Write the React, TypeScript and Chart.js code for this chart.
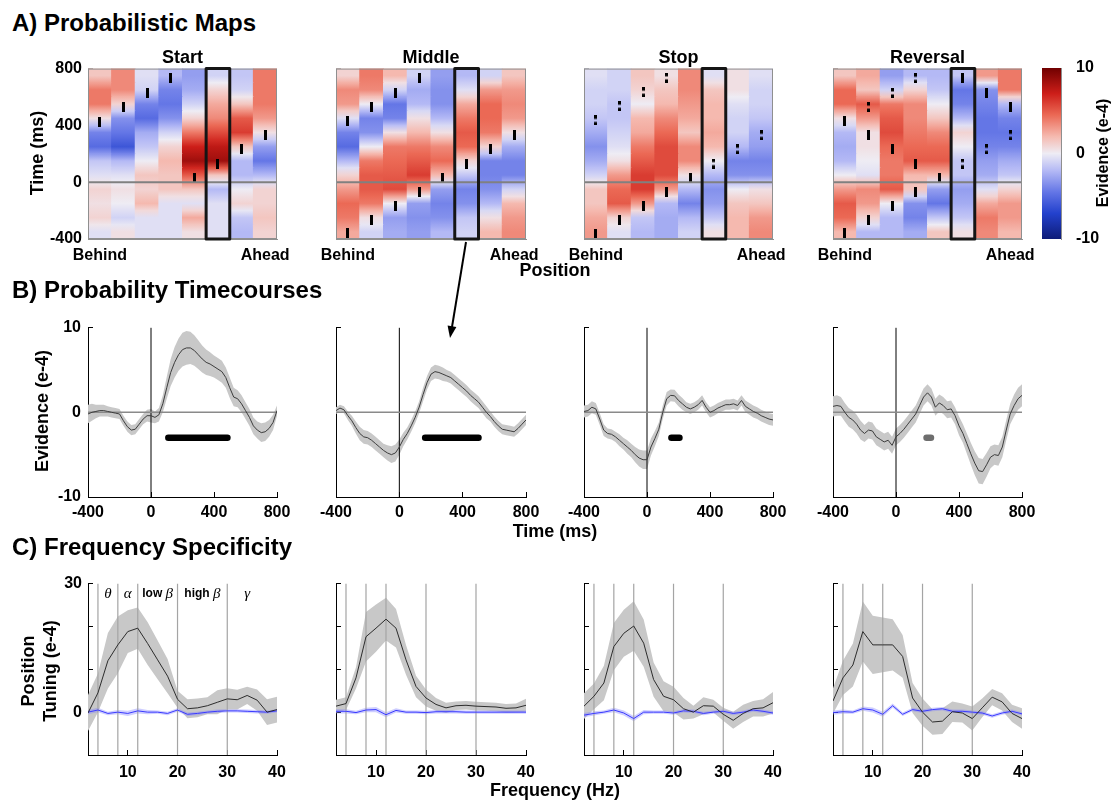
import React, { useEffect, useRef } from "react";
import { Chart, registerables } from "chart.js";

Chart.register(...registerables);

const SANS = "'Liberation Sans', Arial, Helvetica, sans-serif";
const SERIF = "'Liberation Serif', 'DejaVu Serif', serif";

/* ---------------- A) Probabilistic maps ---------------- */
const POSITIONS = ["1", "2", "3", "4", "5", "6", "7", "8"];
const POSITION_TICK_LABELS = ["Behind", "", "", "", "", "", "", "Ahead"];
const MAP_BIN_EDGES = [-400, -300, -200, -100, 0, 100, 200, 300, 400, 500, 600, 700, 800];
const MAP_HIGHLIGHT = 5;
// one row per position (Behind -> Ahead), 12 time bins from -400 ms up to 800 ms
const MAP_START = [
  [-0.5, 1, 0.5, 1, -0.5, -1.5, -5, -4, 0.5, 4, 4, 1.5],
  [0.5, -1, 0, 0.5, -0.5, -2, -6, -4.5, -3.5, 1, 3.5, 3.5],
  [-0.5, -0.5, 2, 1, 1.5, 0, -1.5, -2.5, -5, -4, -1, -0.5],
  [-0.5, -0.5, -0.5, 1.5, 1.5, 2, 1, -1, -3.5, -4.5, -4, -2],
  [0.5, 2.5, -0.5, 1.5, 5, 8.5, 7, 4, 1, -1, -2.5, -3],
  [-0.5, -0.5, -0.5, -2, 1.5, 8.5, 7.5, 5.5, 3.5, 2.5, 1, -1],
  [-2, -1.5, 1, 0, -2, -2, 1.5, 6, 5, 1.5, -1, -1.5],
  [1, 1.5, 1, 1, -2, -4.5, -3, 0.5, 3, 4, 4, 4],
];
const MAP_MIDDLE = [
  [2.5, 4, 4.5, 3, 1, -2, -5, -4, -0.5, 3, 3.5, 1],
  [-1, 0.5, 4, 5, 5, 4, 0, -3.5, -4, 0, 3.5, 4],
  [-2.5, -3, 0, 5.5, 5, 4.5, 4, 0.5, -4, -4.5, -1, 2],
  [-3, -3.5, -3, 3, 6, 5, 4, 2, 0.5, -2, -2.5, -1],
  [-2, -3.5, -4, -3, 2, 4.5, 3.5, 0.5, -2, -3.5, -3.5, -3],
  [-1, -1.5, -3.5, -4, -1.5, 1, 4.5, 5, 4, 2.5, -0.5, -2],
  [2, 0.5, -2, -3.5, -4, -4, 1, 4, 4.5, 4.5, 3, -1],
  [3.5, 3, 2, -1, -4, -4, -2.5, 0.5, 3, 3.5, 3, 1.5],
];
const MAP_STOP = [
  [3, 2.5, 1.5, 1.5, -1, -2.5, -3.5, -2.5, -1.5, -1, -1, -0.5],
  [-0.5, 1, 5, 4.5, 3, 0.5, -0.5, -1, -1.5, -1.5, -1, -1],
  [-2, -1.5, 3, 6, 6, 5, 4, 2.5, 2, 0, 1, 1.5],
  [-2.5, -2.5, -2, 3, 5.5, 5.5, 5.5, 4.5, 3.5, 2, 1.5, 0.5],
  [-1, -2, -4, -2, 0.5, 3.5, 3.5, 1.5, 2.5, 3, 3.5, 3.5],
  [0.5, -1.5, -3, -3.5, -2, 0, 2, 2.5, 2, 2, 1.5, -0.5],
  [2, 2, 1.5, 0, -3.5, -4, -2, -1, -1, -0.5, 0.5, 0.5],
  [3.5, 3, 1.5, 0.5, -3.5, -4, -3, -2.5, -1.5, -1, -1, -0.5],
];
const MAP_REVERSAL = [
  [2, 4.5, 5, 3, 0, -2, -2.5, -2, 0.5, 4.5, 4.5, 1.5],
  [-2, 1, 3, 3.5, -0.5, 0, 0.5, 0.5, 3, 5, 1.5, 2.5],
  [-2, -2, 0, 5, 4, 4, 4.5, 5.5, 5, 4, -1, -3],
  [-2.5, -4, -3.5, 1.5, 2, 5, 4.5, 4, 3.5, 3.5, 1, -2],
  [1.5, -1.5, -4.5, -3, 2, 5, 4.5, 3.5, 1.5, 0, -1.5, -2],
  [0.5, -1.5, -2.5, -3, -1.5, -1.5, 0, 1, -2, -4, -4.5, -1.5],
  [3.5, 4, 2.5, -0.5, -2.5, -3, -4, -4.5, -4.5, -4, -3.5, 3],
  [2, 3, 3, 1, -1.5, -2.5, -4, -4.5, -4, -2, 4, 4],
];
// peak markers: [position, time ms]; "weak" = double-dot markers
const PEAKS_START = [[1, 423], [2, 533], [3, 629], [4, 732], [5, 33], [6, 131], [7, 232], [8, 335]];
const WEAK_START: number[][] = [];
const PEAKS_MIDDLE = [[1, 428], [1, -360], [2, 529], [2, -267], [3, 629], [3, -166], [4, 732], [4, -68], [5, 33], [6, 131], [7, 232], [8, 330]];
const WEAK_MIDDLE: number[][] = [];
const PEAKS_STOP = [[1, -365], [2, -267], [3, -166], [4, -68], [5, 33]];
const WEAK_STOP = [[1, 435], [2, 535], [3, 634], [4, 735], [6, 131], [7, 232], [8, 330]];
const PEAKS_REVERSAL = [[1, 428], [1, -360], [2, 330], [2, -267], [3, 232], [3, -166], [4, 131], [4, -68], [5, 33], [6, 732], [7, 629], [8, 529]];
const WEAK_REVERSAL = [[2, 529], [3, 629], [4, 732], [6, 131], [7, 232], [8, 330]];
const COLORBAR_RANGE = [-10, 10];
const COLORBAR_TICKS = [-10, 0, 10];

/* ---------------- B) Probability timecourses ---------------- */
const TC_TIME = [-400, -375, -350, -325, -300, -275, -250, -225, -200, -175, -150, -125, -100, -75, -50, -25, 0,
  25, 50, 75, 100, 125, 150, 175, 200, 225, 250, 275, 300, 325, 350, 375, 400, 425, 450, 475, 500,
  525, 550, 575, 600, 625, 650, 675, 700, 725, 750, 775, 800];
const TC_START = [-0.2, 0, 0.1, 0.2, 0.2, 0.1, 0, -0.1, -0.2, -1.0, -1.7, -2.1, -2.0, -1.4, -0.8, -0.4, -0.4,
  -0.6, -0.3, 1.0, 2.9, 4.7, 5.9, 6.8, 7.4, 7.6, 7.6, 7.3, 6.8, 6.3, 5.9, 5.7, 5.4, 5.1, 4.8, 4.1, 2.9,
  1.8, 1.6, 1.0, 0.2, -0.6, -1.6, -2.1, -2.4, -2.3, -1.9, -1.2, 0.2];
const TC_START_SEM = [1.1, 1.0, 0.8, 0.7, 0.7, 0.6, 0.6, 0.6, 0.6, 0.6, 0.6, 0.6, 0.6, 0.6, 0.6, 0.7, 0.8,
  0.7, 0.8, 1.0, 1.3, 1.6, 1.8, 1.9, 2.0, 2.0, 1.9, 1.8, 1.7, 1.6, 1.5, 1.4, 1.3, 1.3, 1.3, 1.2, 1.2,
  1.1, 1.0, 1.0, 1.0, 1.0, 1.0, 1.0, 1.1, 1.1, 1.0, 0.9, 0.6];
const TC_MIDDLE = [0.2, 0.5, 0.3, -0.4, -1.0, -1.8, -2.5, -2.9, -3.0, -3.3, -3.7, -4.1, -4.5, -4.8, -5.0, -4.8, -4.1,
  -3.2, -2.5, -1.6, -0.6, 0.6, 2.1, 3.5, 4.5, 4.8, 4.7, 4.5, 4.3, 4.1, 3.7, 3.3, 2.9, 2.5, 2.0, 1.6, 1.2,
  0.6, 0.0, -0.5, -1.1, -1.6, -2.0, -2.1, -2.2, -2.3, -1.9, -1.4, -0.9];
const TC_MIDDLE_SEM = [0.4, 0.4, 0.4, 0.5, 0.6, 0.7, 0.8, 0.8, 0.8, 0.8, 0.8, 0.8, 0.8, 0.9, 1.0, 1.0, 0.9,
  0.8, 0.7, 0.7, 0.7, 0.7, 0.8, 0.8, 0.8, 0.8, 0.8, 0.8, 0.7, 0.7, 0.7, 0.7, 0.7, 0.7, 0.7, 0.7, 0.7,
  0.7, 0.7, 0.6, 0.6, 0.6, 0.6, 0.6, 0.6, 0.6, 0.6, 0.6, 0.6];
const TC_STOP = [0.1, 0.2, 0.6, 0.4, -0.8, -2.1, -2.5, -2.6, -2.9, -3.3, -3.7, -4.1, -4.5, -5.0, -5.4, -5.6, -5.6,
  -4.1, -3.1, -2.0, 0.0, 1.6, 2.0, 1.95, 1.4, 1.0, 0.6, 0.4, 0.6, 0.9, 1.4, 0.6, 0.0, 0.2, 0.5, 0.7, 0.9,
  0.9, 1.0, 0.8, 1.4, 0.7, 0.4, 0.1, -0.1, -0.4, -0.6, -0.8, -0.9];
const TC_STOP_SEM = [0.7, 0.7, 0.7, 0.7, 0.7, 0.7, 0.6, 0.6, 0.6, 0.7, 0.7, 0.8, 0.8, 0.9, 1.0, 1.1, 1.1,
  1.0, 0.9, 0.8, 0.8, 0.8, 0.7, 0.7, 0.7, 0.7, 0.6, 0.6, 0.6, 0.6, 0.6, 0.6, 0.6, 0.6, 0.6, 0.6, 0.6,
  0.6, 0.6, 0.6, 0.6, 0.7, 0.7, 0.7, 0.7, 0.7, 0.7, 0.7, 0.7];
const TC_REVERSAL = [0.7, 0.8, 0.7, 0.0, -0.6, -0.9, -1.4, -2.1, -2.5, -2.1, -2.2, -2.9, -3.2, -3.5, -3.3, -3.9, -2.9,
  -2.5, -2.0, -1.4, -0.8, -0.2, 0.8, 1.8, 2.3, 1.8, 0.6, 1.1, 0.8, 0.3, 0.4, -0.4, -1.6, -2.5, -3.7, -4.9, -6.0,
  -6.9, -7.0, -6.2, -5.3, -5.0, -5.1, -4.1, -2.1, -0.2, 0.8, 1.6, 2.0];
const TC_REVERSAL_SEM = [1.2, 1.2, 1.1, 1.1, 1.1, 1.1, 1.1, 1.1, 1.0, 1.0, 1.0, 1.0, 1.0, 1.0, 1.0, 1.0, 1.0,
  1.0, 1.0, 1.0, 1.0, 1.0, 1.0, 1.0, 1.0, 1.0, 1.0, 1.0, 1.0, 1.0, 1.0, 1.0, 1.1, 1.1, 1.2, 1.3, 1.4,
  1.5, 1.5, 1.4, 1.3, 1.2, 1.2, 1.2, 1.2, 1.2, 1.3, 1.3, 1.3];
const SIG_LEVEL = -3;
const SIG_START = [110, 485];
const SIG_MIDDLE = [163, 500];
const SIG_STOP = [155, 206];
const SIG_REVERSAL = [194, 222];

/* ---------------- C) Frequency specificity ---------------- */
const FREQS = [2, 4, 6, 8, 10, 12, 14, 16, 18, 20, 22, 24, 26, 28, 30, 32, 34, 36, 38, 40];
const FQ_START = [-0.2, 4.5, 12, 15.7, 18.8, 19.6, 16, 12.2, 8.4, 3, 0.8, 1, 1.5, 2.3, 3.1, 2.9, 3.9, 2.8, 0, 0.6];
const FQ_START_SEM = [4.2, 4.5, 6.5, 6.6, 5, 4.8, 5, 4.5, 4, 2, 2.2, 2.2, 2, 2.8, 2.5, 2.3, 2, 2.5, 3, 3];
const FQ_START_NULL = [0, 0.5, -0.3, 0, -0.3, 0.3, 0, 0, -0.3, 0.5, -0.5, -0.3, 0, 0.2, 0.3, 0.3, 0.2, 0.1, 0, 0.3];
const FQ_MIDDLE = [1.4, 2.0, 8, 17.6, 19.6, 21.7, 19.6, 12.2, 6, 3.3, 1.8, 1.0, 1.5, 1.6, 1.4, 1.3, 1.2, 0.9, 1.0, 1.6];
const FQ_MIDDLE_SEM = [1.5, 1.5, 2.5, 5.8, 5.5, 5, 4.5, 3.5, 2.5, 2, 1.5, 1.2, 1, 1, 1, 1, 1, 1, 1, 1.5];
const FQ_MIDDLE_NULL = [0.2, 0.2, -0.1, 0.5, 0.6, -0.6, 0.4, 0, 0, -0.1, 0.1, 0.1, 0.1, 0, 0, 0, 0, 0, 0, 0];
const FQ_STOP = [1.4, 3.7, 6.8, 15.3, 18.4, 20.1, 16.1, 7.6, 3.7, 2.9, 0.8, 0, 1.5, 1.4, -0.5, -1.9, -0.3, 0.8, 1.0, 2.2];
const FQ_STOP_SEM = [3, 3, 4, 5.5, 5.5, 5.8, 5.5, 4, 3.5, 3, 2.5, 1.5, 2, 1.5, 1.5, 2, 2, 1.8, 2, 2.5];
const FQ_STOP_NULL = [-0.7, -0.3, 0, 0.5, -0.2, -1.5, 0, 0, 0, -0.2, 0.3, 0.2, -0.3, 0, 0.2, -0.3, 0, 0.5, 0.2, -0.2];
const FQ_REVERSAL = [2.6, 8, 11, 18.8, 15.7, 15.7, 15.7, 13, 3.3, 0, -2.3, -2.1, 0.1, -0.2, -1.5, 1.0, 3.5, 2.4, -0.3, -1.5];
const FQ_REVERSAL_SEM = [3, 4, 5, 7, 6.8, 6.4, 6, 5, 3.5, 3.2, 3, 3, 2.4, 2.2, 2.8, 2.2, 1.9, 2, 2, 2.4];
const FQ_REVERSAL_NULL = [-0.1, 0.1, 0, 0.8, 0.5, -0.5, 1.5, -0.5, 0.6, 0.2, 0.6, 0.8, 0.2, 0.2, 0, -0.2, -0.9, -0.2, 0.2, -0.4];
const FQ_NULL_SEM = [0.5, 0.5, 0.4, 0.5, 0.6, 0.6, 0.5, 0.4, 0.4, 0.4, 0.4, 0.4, 0.4, 0.4, 0.4, 0.4, 0.4, 0.4, 0.4, 0.4];
const BAND_EDGES = [4, 8, 12, 20, 30];
const BAND_CENTERS = [6, 10, 16, 25, 34];
const BAND_WORDS = ["", "", "low", "high", ""];
const BAND_GREEK = ["θ", "α", "β", "β", "γ"];

/* ---------------- styling ---------------- */
const CMAP = [
  [-10, 14, 28, 120], [-7, 35, 65, 205], [-4.5, 100, 118, 230], [-2, 180, 185, 245], [0, 238, 236, 244],
  [2, 245, 185, 175], [4.5, 235, 105, 85], [7, 205, 30, 25], [10, 112, 0, 0],
];
const BAND_GRAY = "#c8c8c8";
const NONE = "rgba(0,0,0,0)";
const AX_GRAY = "#8f8f8f";

function colorOf(v: number) {
  const x = Math.max(-10, Math.min(10, v));
  for (let i = 0; i < CMAP.length - 1; i++) {
    const a = CMAP[i], b = CMAP[i + 1];
    if (x <= b[0]) {
      const t = (x - a[0]) / (b[0] - a[0]);
      const c = [1, 2, 3].map((k) => Math.round(a[k] + (b[k] - a[k]) * t));
      return `rgb(${c[0]},${c[1]},${c[2]})`;
    }
  }
  return "rgb(112,0,0)";
}

Chart.defaults.font.family = SANS;
Chart.defaults.font.size = 16;
Chart.defaults.font.weight = "bold" as any;
Chart.defaults.color = "#000";

const inward = (color: any) => ({ display: true, drawOnChartArea: false, drawTicks: true, tickLength: -5, color, lineWidth: 1 });
const baseOpts = (padR = 30, padT = 20, padB = 0) => ({
  responsive: false,
  animation: false,
  devicePixelRatio: 1,
  events: [],
  layout: { padding: { left: 0, top: padT, right: padR, bottom: padB } },
});
const noPlugins = { legend: { display: false }, tooltip: { enabled: false } };

function cellFill(ctx: any, values: number[][], b: number) {
  const col = ctx.dataIndex;
  const row = values[col];
  const v = row[b];
  const chart = ctx.chart;
  const ys = chart.scales && chart.scales.y;
  if (!ys || !chart.chartArea) return colorOf(v);
  const y0 = ys.getPixelForValue(MAP_BIN_EDGES[b]);
  const y1 = ys.getPixelForValue(MAP_BIN_EDGES[b + 1]);
  const below = b > 0 ? (row[b - 1] + v) / 2 : v;
  const above = b < row.length - 1 ? (row[b + 1] + v) / 2 : v;
  const g = chart.ctx.createLinearGradient(0, y0, 0, y1);
  g.addColorStop(0, colorOf(below));
  g.addColorStop(0.5, colorOf(v));
  g.addColorStop(1, colorOf(above));
  return g;
}

const heatDecor = {
  id: "heatDecor",
  afterDatasetsDraw(chart: any, _a: any, opts: any) {
    const { ctx, chartArea: a, scales } = chart;
    const x = scales.x, y = scales.y;
    ctx.save();
    const y0 = y.getPixelForValue(0);
    ctx.strokeStyle = "#808080";
    ctx.lineWidth = 2;
    ctx.beginPath();
    ctx.moveTo(a.left, y0);
    ctx.lineTo(a.right, y0);
    ctx.stroke();
    ctx.strokeStyle = AX_GRAY;
    ctx.lineWidth = 1;
    ctx.strokeRect(a.left + 0.5, a.top + 0.5, a.width - 1, a.height - 1);
    const hw = (x.getPixelForValue(1) - x.getPixelForValue(0)) / 2;
    const cx = x.getPixelForValue(opts.highlight);
    ctx.strokeStyle = "#151515";
    ctx.lineWidth = 3;
    ctx.lineJoin = "round";
    ctx.strokeRect(cx - hw, a.top, 2 * hw, a.height);
    ctx.restore();
  },
};

const bandLabels = {
  id: "bandLabels",
  afterDatasetsDraw(chart: any, _a: any, opts: any) {
    if (!opts || !opts.show) return;
    const { ctx, chartArea, scales } = chart;
    const y = chartArea.top + 10;
    ctx.save();
    ctx.textBaseline = "middle";
    ctx.textAlign = "left";
    ctx.fillStyle = "#000";
    const sansF = `bold 12px ${SANS}`;
    const greekF = `italic 15px ${SERIF}`;
    BAND_CENTERS.forEach((f, i) => {
      const word = BAND_WORDS[i] ? BAND_WORDS[i] + " " : "";
      ctx.font = sansF;
      const w1 = word ? ctx.measureText(word).width : 0;
      ctx.font = greekF;
      const w2 = ctx.measureText(BAND_GREEK[i]).width;
      let x = scales.x.getPixelForValue(f) - (w1 + w2) / 2;
      if (word) {
        ctx.font = sansF;
        ctx.fillText(word, x, y);
        x += w1;
      }
      ctx.font = greekF;
      ctx.fillText(BAND_GREEK[i], x, y);
    });
    ctx.restore();
  },
};

function heatmapConfig(values: number[][], peaks: number[][], weak: number[][], showY: boolean, mk: any) {
  const datasets: any[] = [];
  for (let b = 0; b < MAP_BIN_EDGES.length - 1; b++) {
    datasets.push({
      type: "bar",
      data: POSITIONS.map(() => [MAP_BIN_EDGES[b], MAP_BIN_EDGES[b + 1]]),
      backgroundColor: (ctx: any) => cellFill(ctx, values, b),
      borderWidth: 0,
      grouped: false,
      barPercentage: 1,
      categoryPercentage: 1,
      inflateAmount: 0.5,
      order: 3,
    });
  }
  datasets.push({
    type: "line", showLine: false, order: 1,
    data: peaks.map(([p, t]) => ({ x: POSITIONS[p - 1], y: t })),
    pointStyle: mk.bar, pointRadius: 4, pointBorderWidth: 0,
  });
  datasets.push({
    type: "line", showLine: false, order: 1,
    data: weak.map(([p, t]) => ({ x: POSITIONS[p - 1], y: t })),
    pointStyle: mk.colon, pointRadius: 4, pointBorderWidth: 0,
  });
  return {
    type: "bar",
    data: { labels: POSITIONS, datasets },
    options: {
      ...baseOpts(),
      plugins: { ...noPlugins, heatDecor: { highlight: MAP_HIGHLIGHT } },
      scales: {
        x: {
          type: "category", offset: true,
          grid: { ...inward((c: any) => (c.index === 0 || c.index === 7 ? AX_GRAY : NONE)), offset: false },
          border: { color: AX_GRAY, width: 1 },
          ticks: { autoSkip: false, maxRotation: 0, padding: 12, callback: (_v: any, i: number) => POSITION_TICK_LABELS[i] },
          afterFit: (s: any) => { s.height = 40; },
        },
        y: {
          type: "linear", min: -400, max: 800,
          grid: inward(AX_GRAY),
          border: { color: AX_GRAY, width: 1 },
          ticks: { stepSize: 400, padding: 11, callback: (v: any) => (showY ? String(v) : "") },
          afterFit: (s: any) => { s.width = 70; },
        },
      },
    },
    plugins: [heatDecor],
  };
}

function timecourseConfig(mean: number[], sem: number[], sig: number[], sigColor: string, showY: boolean) {
  const pts = (f: (i: number) => number) => TC_TIME.map((t, i) => ({ x: t, y: f(i) }));
  return {
    type: "line",
    data: {
      datasets: [
        { data: pts((i) => mean[i] + sem[i]), fill: "+1", backgroundColor: BAND_GRAY, borderColor: NONE, borderWidth: 0, pointRadius: 0, order: 5 },
        { data: pts((i) => mean[i] - sem[i]), fill: false, borderColor: NONE, borderWidth: 0, pointRadius: 0, order: 5 },
        { data: [{ x: TC_TIME[0], y: 0 }, { x: TC_TIME[TC_TIME.length - 1], y: 0 }], borderColor: "#8a8a8a", borderWidth: 1.5, pointRadius: 0, order: 3 },
        { data: [{ x: 0, y: -10 }, { x: 0, y: 10 }], borderColor: "#000", borderWidth: 1, pointRadius: 0, order: 3 },
        { data: pts((i) => mean[i]), borderColor: "#3c3c3c", borderWidth: 1, pointRadius: 0, order: 1 },
        { data: [{ x: sig[0], y: SIG_LEVEL }, { x: sig[1], y: SIG_LEVEL }], borderColor: sigColor, borderWidth: 6.5, borderCapStyle: "round", pointRadius: 0, order: 0 },
      ],
    },
    options: {
      ...baseOpts(),
      plugins: noPlugins,
      scales: {
        x: {
          type: "linear", min: -400, max: 800,
          grid: inward("#000"), border: { color: "#000", width: 1 },
          ticks: { stepSize: 400, padding: 11, maxRotation: 0, autoSkip: false },
          afterFit: (s: any) => { s.height = 40; },
        },
        y: {
          type: "linear", min: -10, max: 10,
          grid: inward("#000"), border: { color: "#000", width: 1 },
          ticks: { stepSize: 10, padding: 12, callback: (v: any) => (showY ? String(v) : "") },
          afterFit: (s: any) => { s.width = 70; },
        },
      },
    },
  };
}

function freqConfig(mean: number[], sem: number[], nullMean: number[], showY: boolean) {
  const pts = (f: (i: number) => number) => FREQS.map((hz, i) => ({ x: hz, y: f(i) }));
  return {
    type: "line",
    data: {
      datasets: [
        { data: pts((i) => mean[i] + sem[i]), fill: "+1", backgroundColor: BAND_GRAY, borderColor: NONE, borderWidth: 0, pointRadius: 0, order: 6 },
        { data: pts((i) => mean[i] - sem[i]), fill: false, borderColor: NONE, borderWidth: 0, pointRadius: 0, order: 6 },
        { data: pts((i) => nullMean[i] + FQ_NULL_SEM[i]), fill: "+1", backgroundColor: "rgba(125,125,255,0.38)", borderColor: NONE, borderWidth: 0, pointRadius: 0, order: 5 },
        { data: pts((i) => nullMean[i] - FQ_NULL_SEM[i]), fill: false, borderColor: NONE, borderWidth: 0, pointRadius: 0, order: 5 },
        ...BAND_EDGES.map((f) => ({ data: [{ x: f, y: -10 }, { x: f, y: 30 }], borderColor: "#a4a4a4", borderWidth: 1.2, pointRadius: 0, order: 4 })),
        { data: pts((i) => nullMean[i]), borderColor: "#3a3aff", borderWidth: 1, pointRadius: 0, order: 2 },
        { data: pts((i) => mean[i]), borderColor: "#2c2c2c", borderWidth: 1, pointRadius: 0, order: 1 },
      ],
    },
    options: {
      ...baseOpts(),
      plugins: { ...noPlugins, bandLabels: { show: showY } },
      scales: {
        x: {
          type: "linear", min: 2, max: 40,
          grid: inward("#000"), border: { color: "#000", width: 1 },
          ticks: { stepSize: 10, padding: 13, maxRotation: 0, autoSkip: false },
          afterBuildTicks: (s: any) => { s.ticks = s.ticks.filter((t: any) => t.value % 10 === 0); },
          afterFit: (s: any) => { s.height = 40; },
        },
        y: {
          type: "linear", min: -10, max: 30,
          grid: inward("#000"), border: { color: "#000", width: 1 },
          ticks: { stepSize: 10, padding: 11, callback: (v: any) => (showY && (v === 30 || v === 0) ? String(v) : "") },
          afterFit: (s: any) => { s.width = 70; },
        },
      },
    },
    plugins: [bandLabels],
  };
}

function colorbarConfig() {
  return {
    type: "bar",
    data: {
      labels: [""],
      datasets: [{
        data: [COLORBAR_RANGE],
        backgroundColor: (ctx: any) => {
          const chart = ctx.chart;
          const ys = chart.scales && chart.scales.y;
          if (!ys || !chart.chartArea) return colorOf(0);
          const g = chart.ctx.createLinearGradient(0, ys.getPixelForValue(-10), 0, ys.getPixelForValue(10));
          CMAP.forEach((s) => g.addColorStop((s[0] + 10) / 20, colorOf(s[0])));
          return g;
        },
        borderWidth: 0, barPercentage: 1, categoryPercentage: 1, inflateAmount: 0,
      }],
    },
    options: {
      ...baseOpts(0, 20, 20),
      plugins: noPlugins,
      scales: {
        x: { display: false },
        y: {
          position: "right", min: -10, max: 10,
          grid: { display: false },
          border: { color: AX_GRAY, width: 1 },
          ticks: { padding: 7, stepSize: 10, callback: (v: any) => (COLORBAR_TICKS.includes(v) ? String(v) : "") },
          afterFit: (s: any) => { s.width = 50; },
        },
      },
    },
  };
}

const COL_L = [88, 336, 584, 833];
const COL_R = [277, 526, 773, 1022];
const ROW_A = [68, 239];
const ROW_B = [326, 497];
const ROW_C = [583, 755];
const rectFor = (c: number, row: number[]) => ({
  left: COL_L[c] - 70, top: row[0] - 20, width: COL_R[c] - COL_L[c] + 100, height: row[1] - row[0] + 60,
});

const MAPS = [MAP_START, MAP_MIDDLE, MAP_STOP, MAP_REVERSAL];
const PEAKS = [PEAKS_START, PEAKS_MIDDLE, PEAKS_STOP, PEAKS_REVERSAL];
const WEAKS = [WEAK_START, WEAK_MIDDLE, WEAK_STOP, WEAK_REVERSAL];
const TCS = [TC_START, TC_MIDDLE, TC_STOP, TC_REVERSAL];
const TC_SEMS = [TC_START_SEM, TC_MIDDLE_SEM, TC_STOP_SEM, TC_REVERSAL_SEM];
const SIGS = [SIG_START, SIG_MIDDLE, SIG_STOP, SIG_REVERSAL];
const SIG_COLORS = ["#000000", "#000000", "#000000", "#6e6e6e"];
const FQS = [FQ_START, FQ_MIDDLE, FQ_STOP, FQ_REVERSAL];
const FQ_SEMS = [FQ_START_SEM, FQ_MIDDLE_SEM, FQ_STOP_SEM, FQ_REVERSAL_SEM];
const FQ_NULLS = [FQ_START_NULL, FQ_MIDDLE_NULL, FQ_STOP_NULL, FQ_REVERSAL_NULL];
const CONDITIONS = ["Start", "Middle", "Stop", "Reversal"];

type PanelSpec = { rect: any; make: (mk: any) => any };
const PANELS: PanelSpec[] = [
  ...[0, 1, 2, 3].map((c) => ({ rect: rectFor(c, ROW_A), make: (mk: any) => heatmapConfig(MAPS[c], PEAKS[c], WEAKS[c], c === 0, mk) })),
  ...[0, 1, 2, 3].map((c) => ({ rect: rectFor(c, ROW_B), make: () => timecourseConfig(TCS[c], TC_SEMS[c], SIGS[c], SIG_COLORS[c], c === 0) })),
  ...[0, 1, 2, 3].map((c) => ({ rect: rectFor(c, ROW_C), make: () => freqConfig(FQS[c], FQ_SEMS[c], FQ_NULLS[c], c === 0) })),
  { rect: { left: 1042, top: 48, width: 69, height: 211 }, make: () => colorbarConfig() },
];

function makeMarker(kind: "bar" | "colon") {
  const c = document.createElement("canvas");
  c.width = 3;
  c.height = 10;
  const g = c.getContext("2d")!;
  g.fillStyle = "#000";
  if (kind === "bar") g.fillRect(0, 0, 3, 10);
  else {
    g.fillRect(0, 0, 3, 3.5);
    g.fillRect(0, 6.5, 3, 3.5);
  }
  return c;
}

function Label(props: { x: number; y: number; text: string; size: number; rotate?: boolean; left?: boolean }) {
  const { x, y, text, size, rotate, left } = props;
  const style: any = {
    position: "absolute", left: x, top: y, fontFamily: SANS, fontWeight: "bold", fontSize: size,
    lineHeight: 1, whiteSpace: "nowrap", color: "#000",
    transform: left ? "translateY(-50%)" : rotate ? "translate(-50%, -50%) rotate(-90deg)" : "translate(-50%, -50%)",
  };
  return <div style={style}>{text}</div>;
}

export default function App() {
  const refs = useRef<(HTMLCanvasElement | null)[]>([]);
  useEffect(() => {
    const mk = { bar: makeMarker("bar"), colon: makeMarker("colon") };
    const charts: Chart[] = [];
    PANELS.forEach((p, i) => {
      const cv = refs.current[i];
      if (cv) charts.push(new Chart(cv, p.make(mk)));
    });
    return () => charts.forEach((ch) => ch.destroy());
  }, []);

  const titleX = [182.5, 431, 678.5, 927.5];
  return (
    <div style={{ position: "absolute", left: 0, top: 0, width: 1115, height: 803, background: "#fff", overflow: "hidden" }}>
      {PANELS.map((p, i) => (
        <canvas
          key={i}
          ref={(el) => { refs.current[i] = el; }}
          width={p.rect.width}
          height={p.rect.height}
          style={{ position: "absolute", left: p.rect.left, top: p.rect.top, width: p.rect.width, height: p.rect.height }}
        />
      ))}
      <Label x={12} y={23} size={24} text="A) Probabilistic Maps" left />
      <Label x={12} y={290} size={24} text="B) Probability Timecourses" left />
      <Label x={12} y={547} size={24} text="C) Frequency Specificity" left />
      {CONDITIONS.map((c, i) => <Label key={c} x={titleX[i]} y={57} size={18} text={c} />)}
      <Label x={37} y={153} size={18} text="Time (ms)" rotate />
      <Label x={42} y={411} size={18} text="Evidence (e-4)" rotate />
      <Label x={28} y={671} size={18} text="Position" rotate />
      <Label x={50} y={671} size={18} text="Tuning (e-4)" rotate />
      <Label x={555} y={270} size={18} text="Position" />
      <Label x={555} y={531} size={18} text="Time (ms)" />
      <Label x={555} y={790} size={18} text="Frequency (Hz)" />
      <Label x={1103} y={153} size={16} text="Evidence (e-4)" rotate />
      <svg width={1115} height={803} style={{ position: "absolute", left: 0, top: 0, pointerEvents: "none" }}>
        <line x1={466} y1={242} x2={452} y2={327} stroke="#000" strokeWidth={2} />
        <polygon points="450,338 456.4,326.9 447.6,325.4" fill="#000" />
      </svg>
    </div>
  );
}
